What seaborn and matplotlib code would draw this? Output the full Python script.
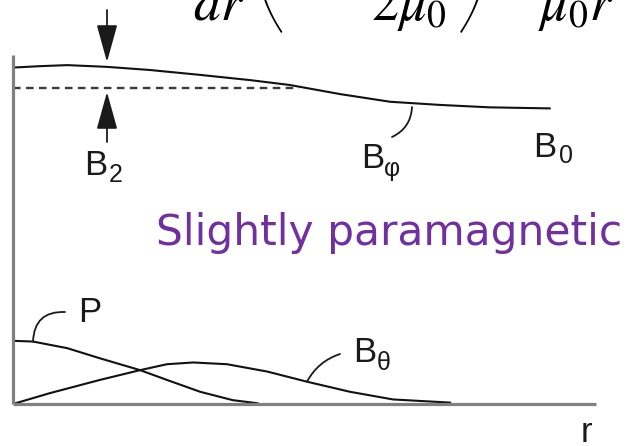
import matplotlib
matplotlib.use("Agg")
import matplotlib.pyplot as plt
import seaborn as sns

# Field and pressure profiles across the pinch radius r (normalised units)
bphi_r = [0.0, 0.046, 0.093, 0.161, 0.235, 0.321, 0.407, 0.475, 0.561, 0.647, 0.732, 0.818, 0.921]
bphi = [0.964, 0.968, 0.971, 0.966, 0.957, 0.943, 0.928, 0.914, 0.888, 0.866, 0.857, 0.850, 0.847]

p_r = [0.0, 0.034, 0.093, 0.149, 0.218, 0.264, 0.321, 0.377, 0.420]
p_vals = [0.181, 0.179, 0.160, 0.131, 0.097, 0.069, 0.035, 0.011, 0.002]

btheta_r = [0.0, 0.063, 0.149, 0.218, 0.264, 0.309, 0.367, 0.436, 0.504, 0.578, 0.652, 0.750]
btheta = [0.0, 0.031, 0.069, 0.097, 0.114, 0.119, 0.114, 0.093, 0.064, 0.035, 0.013, 0.004]

# Reference level of the applied field and its extent
b2_level = 0.905
b2_r = [0.0, 0.49]

W, H = 627, 446

sns.set_theme(style="white")
plt.rcParams["font.family"] = ["Liberation Sans", "DejaVu Sans"]

fig = plt.figure(figsize=(W / 100, H / 100), dpi=100)
ax = fig.add_axes([13 / W, 42 / H, 583 / W, 349 / H])
ax.set_xlim(0, 1)
ax.set_ylim(0, 1)
ax.set_xticks([])
ax.set_yticks([])
sns.despine(ax=ax, top=True, right=True)
for side in ("left", "bottom"):
    ax.spines[side].set_color("#808080")
    ax.spines[side].set_linewidth(2.3)
    ax.spines[side].set_capstyle("butt")

line_kw = dict(color="#111111", linewidth=1.5, estimator=None, sort=False, legend=False,
               solid_joinstyle="round")
sns.lineplot(x=bphi_r, y=bphi, ax=ax, **line_kw)
sns.lineplot(x=p_r, y=p_vals, ax=ax, **line_kw)
sns.lineplot(x=btheta_r, y=btheta, ax=ax, **line_kw)
ax.plot(b2_r, [b2_level, b2_level], color="#3a3a3a", linewidth=1.7,
        dashes=(3.2, 2.3))


def to_data(px, py):
    return ((px - 13) / 583, (404 - py) / 349)


def fig_xy(px, py):
    return (px / W, (H - py) / H)


# Arrows marking the gap B2
arrow_kw = dict(arrowstyle="-|>,head_length=1.3,head_width=0.36", color="#1a1a1a",
                lw=1.3, mutation_scale=18, shrinkA=0, shrinkB=0)
ax.annotate("", xy=to_data(107, 62), xytext=to_data(107, 10),
            arrowprops=arrow_kw, annotation_clip=False)
ax.annotate("", xy=to_data(107, 92), xytext=to_data(107, 142),
            arrowprops=arrow_kw, annotation_clip=False)

# Leader lines from labels to curves
lead_kw = dict(arrowstyle="-", color="#1a1a1a", lw=1.3, shrinkA=0, shrinkB=0)
ax.annotate("", xy=to_data(33, 341.7), xytext=to_data(65, 312),
            arrowprops=dict(connectionstyle="arc3,rad=0.5", **lead_kw), annotation_clip=False)
ax.annotate("", xy=to_data(412, 107), xytext=to_data(392, 137),
            arrowprops=dict(connectionstyle="arc3,rad=0.3", **lead_kw), annotation_clip=False)
ax.annotate("", xy=to_data(307, 381.7), xytext=to_data(340, 354),
            arrowprops=dict(connectionstyle="arc3,rad=0.2", **lead_kw), annotation_clip=False)

lab = dict(color="#1a1a1a", ha="left", va="baseline")
main_fs, sub_fs = 25, 18


def label(px, py, main, sub, spx, spy):
    fig.text(*fig_xy(px, py), main, fontsize=main_fs, **lab)
    if sub:
        fig.text(*fig_xy(spx, spy), sub, fontsize=sub_fs, **lab)


label(84, 175, "B", "2", 109, 182)
label(361, 168, "B", "φ", 384, 176)
label(533, 157, "B", "0", 559, 163)
label(353, 362, "B", "θ", 377, 370)
label(78, 322, "P", None, 0, 0)
label(581, 442, "r", None, 0, 0)

fig.text(*fig_xy(156, 245), "Slightly paramagnetic", fontsize=30.5,
         family=["DejaVu Sans"], color="#7030A0", ha="left", va="baseline")

# Bottom of the pressure-balance equation
eq = dict(fontsize=39, color="black", ha="left", va="baseline", math_fontfamily="stix")
fig.text(*fig_xy(193, 20), r"$dr$", **eq)
fig.text(*fig_xy(371, 20), r"$2\mu_0$", **eq)
fig.text(*fig_xy(538, 20), r"$\mu_0 r$", **eq)
par = dict(fontsize=125, color="black", ha="left", va="bottom",
           family=["Lato", "DejaVu Sans"], fontweight=200)
fig.text(*fig_xy(246, 44), "(", **par)
fig.text(*fig_xy(453, 44), ")", **par)

fig.savefig("out.png", dpi=100)
